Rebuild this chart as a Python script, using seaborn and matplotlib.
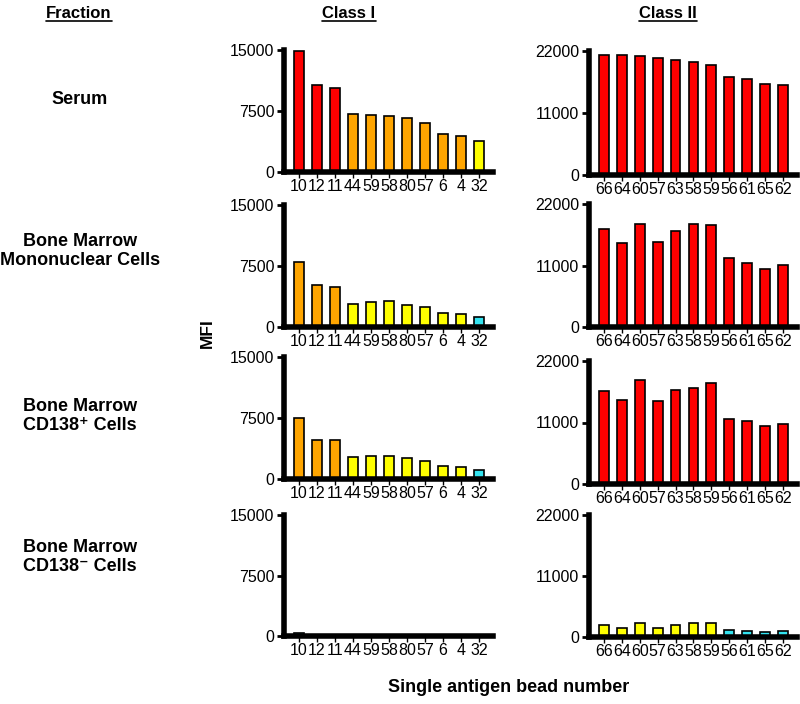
import matplotlib
matplotlib.use("Agg")
import matplotlib.pyplot as plt
import pandas as pd
import seaborn as sns
from matplotlib.lines import Line2D

sns.set_theme(style="white")
plt.rcParams['font.family'] = ['Liberation Sans', 'DejaVu Sans']
plt.rcParams['text.color'] = 'black'
plt.rcParams['xtick.color'] = 'black'
plt.rcParams['ytick.color'] = 'black'
plt.rcParams['axes.labelcolor'] = 'black'

# bead numbers on the x axis
beads_1 = ['10', '12', '11', '44', '59', '58', '80', '57', '6', '4', '32']
beads_2 = ['66', '64', '60', '57', '63', '58', '59', '56', '61', '65', '62']

fractions = ['Serum', 'Bone Marrow\nMononuclear Cells',
             'Bone Marrow\nCD138\u207a Cells', 'Bone Marrow\nCD138\u207b Cells']

# MFI values
serum_1 = [14900, 10700, 10300, 7150, 6950, 6900, 6580, 5970, 4620, 4370, 3840]
serum_2 = [21290, 21290, 21050, 20690, 20400, 20040, 19440, 17420, 17070, 16110, 16050]
bmmc_1 = [7950, 5200, 4920, 2870, 3030, 3200, 2750, 2460, 1680, 1600, 1190]
bmmc_2 = [17530, 15080, 18360, 15200, 17230, 18420, 18300, 12280, 11390, 10370, 11150]
cd138p_1 = [7540, 4770, 4770, 2730, 2810, 2810, 2570, 2240, 1590, 1510, 1100]
cd138p_2 = [16710, 15040, 18610, 14800, 16830, 17120, 18080, 11650, 11180, 10400, 10700]
cd138n_1 = [370, 120, 170, 0, 0, 0, 0, 0, 0, 0, 0]
cd138n_2 = [2230, 1690, 2470, 1690, 2110, 2470, 2590, 1200, 1020, 840, 1020]

# bar colour groups
R, O, Y, C = '#ff0000', '#ffa500', '#ffff00', '#33e3f0'
serum_1_col = [R, R, R, O, O, O, O, O, O, O, Y]
serum_2_col = [R] * 11
bmmc_1_col = [O, O, O, Y, Y, Y, Y, Y, Y, Y, C]
bmmc_2_col = [R] * 11
cd138p_1_col = [O, O, O, Y, Y, Y, Y, Y, Y, Y, C]
cd138p_2_col = [R] * 11
cd138n_1_col = [C] * 11
cd138n_2_col = [Y, Y, Y, Y, Y, Y, Y, C, C, C, C]

rows = [
    (serum_1, serum_1_col, serum_2, serum_2_col),
    (bmmc_1, bmmc_1_col, bmmc_2, bmmc_2_col),
    (cd138p_1, cd138p_1_col, cd138p_2, cd138p_2_col),
    (cd138n_1, cd138n_1_col, cd138n_2, cd138n_2_col),
]

W, H = 800, 704
fig = plt.figure(figsize=(W / 100, H / 100), dpi=100)

# axes boxes in pixels: (top, bottom) for class I and class II
boxes_1 = [(50, 172), (205, 327), (357, 479), (515, 636)]
boxes_2 = [(51, 175), (204, 327), (361, 484), (515, 637)]


def make_ax(left, right, top, bottom):
    return fig.add_axes([left / W, 1 - bottom / H, (right - left) / W, (bottom - top) / H])


def draw(ax, beads, vals, cols, ymax):
    df = pd.DataFrame({'bead': beads, 'mfi': vals})
    sns.barplot(data=df, x='bead', y='mfi', hue='bead', order=beads,
                palette=dict(zip(beads, cols)), legend=False, width=0.55,
                saturation=1, edgecolor='black', linewidth=1.2, ax=ax)
    ax.set_ylim(0, ymax)
    ax.set_xlim(-0.83, 10.78)
    ax.set_yticks([0, ymax / 2, ymax])
    ax.set_yticklabels(['0', str(int(ymax / 2)), str(int(ymax))])
    for s in ['top', 'right']:
        ax.spines[s].set_visible(False)
    for s in ['left', 'bottom']:
        ax.spines[s].set_linewidth(4)
        ax.spines[s].set_color('black')
    ax.tick_params(axis='y', direction='out', length=5, width=2, labelsize=11.5, pad=2, left=True)
    ax.tick_params(axis='x', direction='out', length=4, width=1, labelsize=11.5, pad=1, bottom=True)
    ax.set_xlabel('')
    ax.set_ylabel('')
    ax.set_facecolor('white')


for i, (v1, c1, v2, c2) in enumerate(rows):
    a1 = make_ax(284, 493, *boxes_1[i])
    draw(a1, beads_1, v1, c1, 15000)
    a2 = make_ax(589, 797, *boxes_2[i])
    draw(a2, beads_2, v2, c2, 22000)

# headers, underlined
for x, txt in [(79, 'Fraction'), (349, 'Class I'), (668, 'Class II')]:
    t = fig.text(x / W, 1 - 14 / H, txt, ha='center', va='center', fontsize=12, fontweight='bold')
    fig.canvas.draw()
    bb = t.get_window_extent().transformed(fig.transFigure.inverted())
    fig.add_artist(Line2D([bb.x0, bb.x1], [bb.y0 + 0.001, bb.y0 + 0.001],
                          color='black', linewidth=1.2, transform=fig.transFigure))

for y, txt in zip([100, 251, 416, 557], fractions):
    fig.text(80 / W, 1 - y / H, txt, ha='center', va='center', fontsize=13,
             fontweight='bold', linespacing=1.15)

fig.text(207 / W, 1 - 333 / H, 'MFI', rotation=90, ha='center', va='center',
         fontsize=12.5, fontweight='bold')
fig.text(509 / W, 1 - 688 / H, 'Single antigen bead number', ha='center', va='center',
         fontsize=13, fontweight='bold')

fig.savefig('out.png', dpi=100, facecolor='white')
